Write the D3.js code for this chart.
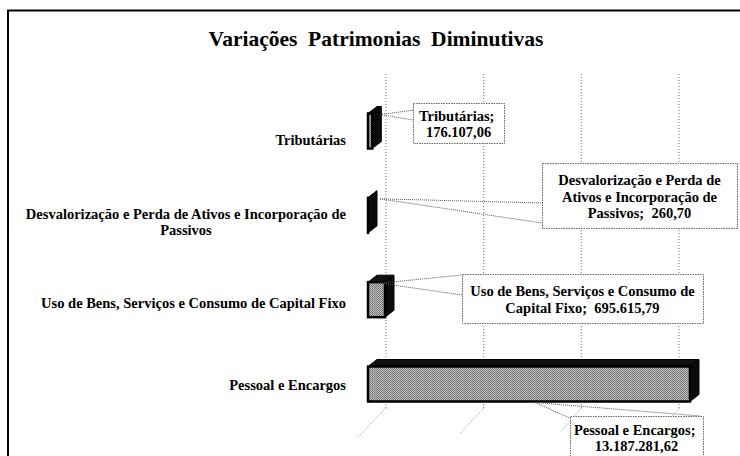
<!DOCTYPE html>
<html>
<head>
<meta charset="utf-8">
<script src="https://cdn.jsdelivr.net/npm/d3@7"></script>
<style>
  body { margin: 0; background: #fff; }
  svg { display: block; }
  text { font-family: "Liberation Serif", "Times New Roman", serif; font-weight: bold; fill: #000; }
</style>
</head>
<body>
<div id="chart"></div>
<script>
var categories = [
  "Tributárias",
  "Desvalorização e Perda de Ativos e Incorporação de Passivos",
  "Uso de Bens, Serviços e Consumo de Capital Fixo",
  "Pessoal e Encargos"
];
var values = [176107.06, 260.70, 695615.79, 13187281.62];
var gridTicks = [0, 4000000, 8000000, 12000000];
var title = "Variações  Patrimonias  Diminutivas";

// callout boxes, placed by hand like the original sheet
var callouts = [
  {box: [413, 103, 91, 40], from: [12, "top"], to: [[2, 7], [0, 17]]},
  {box: [542, 163, 195, 65], from: [12, "top"], to: [[0, 40], [0, 60]]},
  {box: [462, 274, 241, 49], from: [12, "top"], to: [[0, 1], [0, 21]]},
  {box: [570, 416, 133, 42], from: [167, "bottom"], to: [[2, 3], [130, 0]]}
];

var W = 740, H = 456;
var DEPTH = {dx: 9, dy: -7}, WALL = 18, BAR_H = 35;

var ptBR = d3.formatLocale({decimal: ",", thousands: ".", grouping: [3], currency: ["R$", ""]});
var fmt = ptBR.format(",.2f");

var svg = d3.select("#chart").append("svg")
  .attr("width", W)
  .attr("height", H);

var defs = svg.append("defs");
var pat = defs.append("pattern")
  .attr("id", "halftone")
  .attr("width", 2).attr("height", 2)
  .attr("patternUnits", "userSpaceOnUse");
pat.append("rect").attr("width", 2).attr("height", 2).attr("fill", "#bdbdbd");
pat.append("rect").attr("width", 1).attr("height", 1).attr("fill", "#6e6e6e");
pat.append("rect").attr("x", 1).attr("y", 1).attr("width", 1).attr("height", 1).attr("fill", "#858585");

// frame
svg.append("rect")
  .attr("x", 8).attr("y", 10.5)
  .attr("width", 800).attr("height", 500)
  .attr("fill", "none")
  .attr("stroke", "#000")
  .attr("stroke-width", 2);

svg.append("text")
  .attr("x", 376).attr("y", 46)
  .attr("text-anchor", "middle")
  .attr("font-size", 21.5)
  .style("white-space", "pre")
  .text(title);

var x = d3.scaleLinear().domain([0, 12000000]).range([368, 661]);
var y = d3.scalePoint().domain(categories).range([131, 384]);
var yLabel = d3.scalePoint().domain(categories).range([140, 385]);

var floorY = 408;

// back wall gridlines + floor
var grid = svg.append("g");
grid.selectAll("line.v").data(gridTicks).enter().append("line")
  .attr("class", "v")
  .attr("x1", function(d){ return x(d) + WALL; })
  .attr("x2", function(d){ return x(d) + WALL; })
  .attr("y1", 74).attr("y2", floorY)
  .attr("stroke", "#777").attr("stroke-width", 1)
  .attr("stroke-dasharray", "1,2");
grid.selectAll("line.f").data(gridTicks).enter().append("line")
  .attr("class", "f")
  .attr("x1", function(d){ return x(d) + WALL; })
  .attr("x2", function(d, i){ return x(d) + WALL - 28 + i * 4; })
  .attr("y1", floorY)
  .attr("y2", function(d, i){ return floorY + 29 - i * 3; })
  .attr("stroke", "#888").attr("stroke-width", 1)
  .attr("stroke-dasharray", "1,2");

// 3d bars
var bars = svg.selectAll("g.bar").data(categories).enter().append("g").attr("class", "bar");
bars.each(function(c, i){
  var g = d3.select(this);
  var x0 = x(0), x1 = x(values[i]);
  var yT = y(c) - BAR_H / 2, yB = y(c) + BAR_H / 2;
  var dx = DEPTH.dx, dy = DEPTH.dy;
  g.append("polygon")
    .attr("points", [[x0, yT], [x0 + dx, yT + dy], [x1 + dx, yT + dy], [x1, yT]].join(" "))
    .attr("fill", "#111").attr("stroke", "#000").attr("stroke-width", 1);
  g.append("polygon")
    .attr("points", [[x1, yT], [x1 + dx, yT + dy], [x1 + dx, yB + dy], [x1, yB]].join(" "))
    .attr("fill", "#0a0a0a").attr("stroke", "#000").attr("stroke-width", 1);
  g.append("rect")
    .attr("x", x0).attr("y", yT)
    .attr("width", Math.max(0, x1 - x0)).attr("height", BAR_H)
    .attr("fill", "url(#halftone)")
    .attr("stroke", "#000").attr("stroke-width", 2.5);
});

function wrap(textSel, words, maxW){
  var lines = [], cur = "";
  var probe = textSel.append("tspan");
  words.forEach(function(w){
    var t = cur ? cur + " " + w : w;
    probe.text(t);
    if (probe.node().getComputedTextLength() > maxW && cur) {
      lines.push(cur);
      cur = w;
    } else {
      cur = t;
    }
  });
  if (cur) lines.push(cur);
  probe.remove();
  return lines;
}

// category labels
var LABEL_RIGHT = 346, LABEL_SIZE = 14.5, LABEL_LH = 16;
categories.forEach(function(c){
  var t = svg.append("text").attr("font-size", LABEL_SIZE).attr("text-anchor", "middle");
  var lines = wrap(t, c.split(" "), 335);
  var widths = lines.map(function(l){
    var p = t.append("tspan").text(l);
    var w = p.node().getComputedTextLength();
    p.remove();
    return w;
  });
  var cx = LABEL_RIGHT - d3.max(widths) / 2;
  var y0 = yLabel(c) - (lines.length - 1) * LABEL_LH / 2;
  lines.forEach(function(l, k){
    t.append("tspan")
      .attr("x", cx)
      .attr("y", y0 + k * LABEL_LH)
      .attr("dy", "0.35em")
      .text(l);
  });
});

// data label callouts
var CALL_SIZE = 14.5, CALL_LH = 16.5;
callouts.forEach(function(co, i){
  var c = categories[i];
  var b = co.box;
  var sx = x(0) + co.from[0];
  var sy = co.from[1] === "top" ? y(c) - BAR_H / 2 + 1 : y(c) + BAR_H / 2 + 1;
  co.to.forEach(function(p){
    svg.append("line")
      .attr("x1", sx).attr("y1", sy)
      .attr("x2", b[0] + p[0]).attr("y2", b[1] + p[1])
      .attr("stroke", "#555").attr("stroke-width", 1)
      .attr("stroke-dasharray", "1,1");
  });
  svg.append("rect")
    .attr("x", b[0] + 0.5).attr("y", b[1] + 0.5)
    .attr("width", b[2]).attr("height", b[3])
    .attr("fill", "#fff")
    .attr("stroke", "#666").attr("stroke-width", 1)
    .attr("stroke-dasharray", "1.5,1");
  var t = svg.append("text").attr("font-size", CALL_SIZE).attr("text-anchor", "middle");
  var label = c + ";\u00a0 " + fmt(values[i]);
  var lines = wrap(t, label.split(" "), b[2] - 6);
  var cy = b[1] + b[3] / 2 - (lines.length - 1) * CALL_LH / 2;
  lines.forEach(function(l, k){
    t.append("tspan")
      .attr("x", b[0] + b[2] / 2)
      .attr("y", cy + k * CALL_LH)
      .attr("dy", "0.42em")
      .text(l);
  });
});
</script>
</body>
</html>
